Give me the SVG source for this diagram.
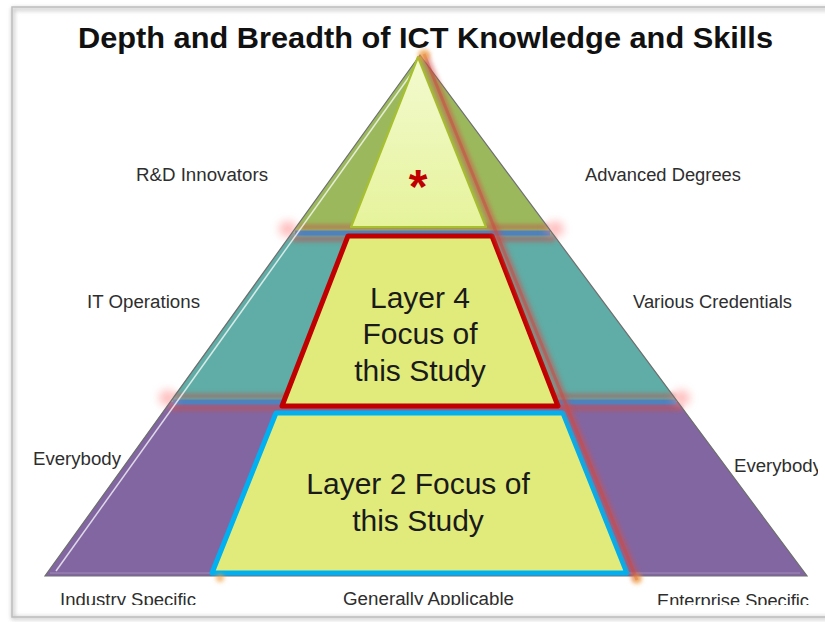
<svg xmlns="http://www.w3.org/2000/svg" width="825" height="622" viewBox="0 0 825 622">
<defs>
<style>
.lbl{font-family:"Liberation Sans",Arial,sans-serif;font-size:18px;fill:#2e2e2e;}
.big{font-family:"Liberation Sans",Arial,sans-serif;font-size:30px;fill:#1a1a1a;text-anchor:middle;}
.title{font-family:"Liberation Sans",Arial,sans-serif;font-size:30px;font-weight:bold;fill:#111;}
</style>
<filter id="blur2" x="-50%" y="-50%" width="200%" height="200%"><feGaussianBlur stdDeviation="2"/></filter>
<filter id="blur4" x="-100%" y="-100%" width="300%" height="300%"><feGaussianBlur stdDeviation="4"/></filter>
<filter id="shadow" x="-5%" y="-5%" width="110%" height="110%"><feGaussianBlur stdDeviation="2"/></filter>
<linearGradient id="tipFill" x1="0" y1="0" x2="0" y2="1">
<stop offset="0" stop-color="#f3fad0"/>
<stop offset="1" stop-color="#e6f39b"/>
</linearGradient>
<clipPath id="clipLabels"><rect x="0" y="0" width="818" height="605"/></clipPath>
</defs>
<rect width="825" height="622" fill="#ffffff"/>
<g id="frame">
<rect x="13" y="9" width="850" height="609" fill="none" stroke="#999" stroke-width="3" filter="url(#shadow)" opacity="0.6"/>
<rect x="12" y="7" width="850" height="610" fill="none" stroke="#bdbdbd" stroke-width="1.5"/>
</g>
<text class="title" x="78" y="48" textLength="695" lengthAdjust="spacingAndGlyphs">Depth and Breadth of ICT Knowledge and Skills</text>
<g id="pyramid">
<polygon id="band-top" points="420,55 292,233 552,233" fill="#9bb95c"/>
<polygon id="band-mid" points="292,233 552,233 678,402 170,402" fill="#5fada6"/>
<polygon id="band-bottom" points="170,402 678,402 807,576 45,576" fill="#8266a2"/>
<g filter="url(#blur2)" opacity="0.55">
<line x1="300" y1="227" x2="548" y2="227" stroke="#c0504d" stroke-width="5"/>
<line x1="292" y1="239" x2="555" y2="239" stroke="#c0504d" stroke-width="6"/>
<line x1="175" y1="396" x2="675" y2="396" stroke="#c0504d" stroke-width="5"/>
<line x1="170" y1="408" x2="682" y2="408" stroke="#c0504d" stroke-width="6"/>
</g>
<line x1="295" y1="233" x2="550" y2="233" stroke="#4f81bd" stroke-width="5"/>
<line x1="173" y1="402" x2="676" y2="402" stroke="#4f81bd" stroke-width="5"/>
<g fill="#ff8a8a" opacity="0.55" filter="url(#blur4)">
<ellipse cx="288" cy="229" rx="9" ry="8"/>
<ellipse cx="555" cy="229" rx="9" ry="8"/>
<ellipse cx="168" cy="398" rx="9" ry="8"/>
<ellipse cx="681" cy="398" rx="9" ry="8"/>
</g>
<polygon points="420,55 45,576 807,576" fill="none" stroke="#6e6e6e" stroke-width="1.2"/>
<line x1="414" y1="70" x2="56" y2="571" stroke="#ffffff" stroke-width="1.5" opacity="0.75"/>
<line x1="50" y1="573" x2="800" y2="573" stroke="#ffffff" stroke-width="1" opacity="0.25"/>
</g>
<g id="tip">
<polygon points="418,57 351,227 486,227" fill="url(#tipFill)" stroke="#a6c030" stroke-width="2.2" stroke-linejoin="round"/>
<text x="418" y="203" text-anchor="middle" font-family="Liberation Sans, Arial, sans-serif" font-size="48" font-weight="bold" fill="#c00000">*</text>
</g>
<g id="layer4">
<polygon points="348,236 492,236 558,406 282,406" fill="#e1eb7c" stroke="#c00000" stroke-width="5" stroke-linejoin="round"/>
<text class="big" x="420" y="308">Layer 4</text>
<text class="big" x="420" y="344">Focus of</text>
<text class="big" x="420" y="381">this Study</text>
</g>
<g id="layer2">
<polygon points="276,413 563,413 627,573 212,573" fill="#e1eb7c" stroke="#00b0f0" stroke-width="5" stroke-linejoin="round"/>
<text class="big" x="418" y="494">Layer 2 Focus of</text>
<text class="big" x="418" y="531">this Study</text>
</g>
<g id="connectors">
<line x1="424" y1="54" x2="637" y2="580" stroke="#d0504a" stroke-width="8" opacity="0.55" filter="url(#blur2)"/>
<line x1="424" y1="54" x2="637" y2="580" stroke="#c84a44" stroke-width="3" opacity="0.45"/>
<g fill="#f0a040" opacity="0.7" filter="url(#blur2)">
<circle cx="424" cy="55" r="6"/>
<circle cx="637" cy="579" r="5"/>
<circle cx="220" cy="578" r="4"/>
</g>
</g>
<g id="labels" clip-path="url(#clipLabels)">
<text class="lbl" x="136" y="181" textLength="132" lengthAdjust="spacingAndGlyphs">R&amp;D Innovators</text>
<text class="lbl" x="585" y="181" textLength="156" lengthAdjust="spacingAndGlyphs">Advanced Degrees</text>
<text class="lbl" x="87" y="308" textLength="113" lengthAdjust="spacingAndGlyphs">IT Operations</text>
<text class="lbl" x="633" y="308" textLength="159" lengthAdjust="spacingAndGlyphs">Various Credentials</text>
<text class="lbl" x="33" y="465" textLength="88" lengthAdjust="spacingAndGlyphs">Everybody</text>
<text class="lbl" x="734" y="472" textLength="88" lengthAdjust="spacingAndGlyphs">Everybody</text>
<text class="lbl" x="60" y="606" textLength="136" lengthAdjust="spacingAndGlyphs">Industry Specific</text>
<text class="lbl" x="343" y="605" textLength="171" lengthAdjust="spacingAndGlyphs">Generally Applicable</text>
<text class="lbl" x="657" y="607" textLength="152" lengthAdjust="spacingAndGlyphs">Enterprise Specific</text>
</g>
</svg>
